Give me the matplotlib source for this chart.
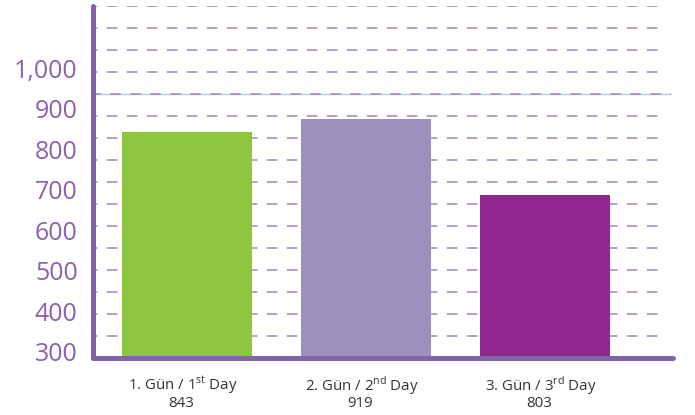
import numpy as np
import matplotlib
matplotlib.use("Agg")
import matplotlib.pyplot as plt

# ---- data ----
categories = [r"1. Gün / 1$^{\mathrm{st}}$ Day",
              r"2. Gün / 2$^{\mathrm{nd}}$ Day",
              r"3. Gün / 3$^{\mathrm{rd}}$ Day"]
reported_counts = [843, 919, 803]          # numbers printed under each bar
bar_heights = [843, 874, 687]              # heights as drawn against the axis
y_ticks = [300, 400, 500, 600, 700, 800, 900, 1000]
y_tick_labels = ["300", "400", "500", "600", "700", "800", "900", "1,000"]
bar_colors = ["#8dc63f", "#9d8fbe", "#90278e"]

plt.rcParams["font.family"] = ["Open Sans", "DejaVu Sans"]
plt.rcParams["mathtext.fontset"] = "custom"
plt.rcParams["mathtext.rm"] = "Open Sans"
plt.rcParams["lines.scale_dashes"] = False

fig = plt.figure(figsize=(6.95, 4.15), dpi=100)
ax = fig.add_axes([93 / 695, (415 - 357.5) / 415, 580 / 695, (357.5 - 6) / 415])

ymin, ymax = 286, 1153
ax.set_ylim(ymin, ymax)
ax.set_xlim(-0.525, 2.715)

axis_color = "#8364a6"
grid_color = "#a283c4"

# dashed gridlines (16 equal divisions)
grid_y = np.linspace(ymin, ymax, 17)[1:]
special = 11
ytr = ax.get_yaxis_transform()
for i, gy in enumerate(grid_y):
    if i == special:
        ax.plot([0, 0.9966], [gy, gy], transform=ytr, color="#a9d4e8",
                lw=1.0, zorder=1, solid_capstyle="butt")
        ax.plot([0.0, 0.9966], [gy, gy], transform=ytr, color=grid_color,
                lw=1.1, linestyle=(2, (7.7, 6.7)), zorder=1.1)
    else:
        ax.plot([0.0, 0.983], [gy, gy], transform=ytr, color=grid_color,
                lw=1.1, linestyle=(4.5, (7.7, 6.7)), zorder=1)

x = np.arange(len(categories))
ax.bar(x, bar_heights, width=130 / 179, color=bar_colors, zorder=2)

# spines
for s in ["top", "right"]:
    ax.spines[s].set_visible(False)
ax.spines["left"].set_color(axis_color)
ax.spines["left"].set_linewidth(3.6)
ax.spines["bottom"].set_color(axis_color)
ax.spines["bottom"].set_linewidth(3.6)
ax.spines["bottom"].set_capstyle("round")
ax.spines["left"].set_capstyle("round")

ax.set_yticks(y_ticks)
ax.set_yticklabels(y_tick_labels, fontsize=18, color="#8a62ad")
ax.tick_params(axis="y", length=0, pad=11)

ax.set_xticks([])
xtr = ax.get_xaxis_transform()
for xi, cat, cnt in zip(x, categories, reported_counts):
    ax.text(xi - 0.025, -0.0953, cat, transform=xtr, ha="center",
            va="baseline", fontsize=10.8, color="#333333")
    ax.text(xi - 0.035, -0.1408, str(cnt), transform=xtr, ha="center",
            va="baseline", fontsize=10.8, color="#333333")

fig.savefig("out.png", dpi=100)
